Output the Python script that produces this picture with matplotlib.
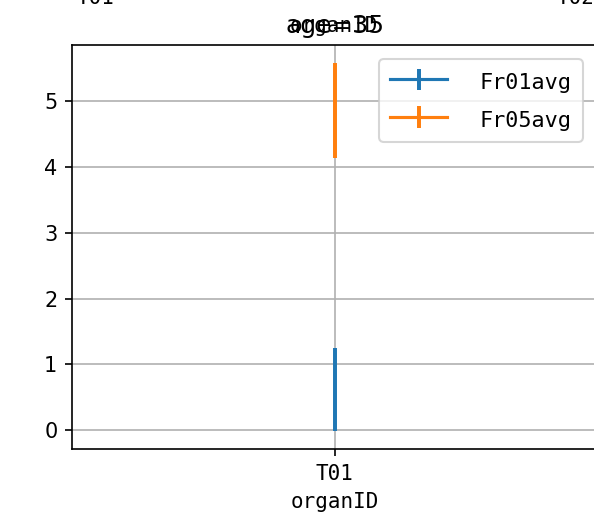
import matplotlib
matplotlib.use("Agg")
import matplotlib.pyplot as plt

# Data
categories = ["T01"]
fr01_avg = [0.62]
fr01_err = [0.63]
fr05_avg = [4.86]
fr05_err = [0.72]
series_labels = ["Fr01avg", "Fr05avg"]
title = "age=35"
xlabel = "organID"
upper_ticks = ["T01", "T02"]

DPI = 150
W, H = 594, 524
fig = plt.figure(figsize=(W / DPI, H / DPI), dpi=DPI)

left, right, bottom, top = 72, 597, 449, 45
ax = fig.add_axes([left / W, (H - bottom) / H, (right - left) / W, (bottom - top) / H])

mono = "DejaVu Sans Mono"

ax.errorbar(categories, fr01_avg, yerr=fr01_err, color="#1f77b4", elinewidth=1.9,
            label=series_labels[0])
ax.errorbar(categories, fr05_avg, yerr=fr05_err, color="#ff7f0e", elinewidth=1.9,
            label=series_labels[1])

ax.grid(True, color="#b0b0b0", linewidth=0.8)
ax.set_axisbelow(True)
ax.set_title(title, fontsize=12, family="DejaVu Sans")
ax.set_xlabel(xlabel, family=mono, fontsize=10)
for lab in ax.get_xticklabels():
    lab.set_family(mono)
ax.tick_params(labelsize=10)

leg = ax.legend(loc="upper right", prop={"family": mono, "size": 10.5},
                handlelength=2.6, handletextpad=1.5, labelspacing=0.7,
                handleheight=1.2, borderpad=0.5, borderaxespad=0.65)

# Remnants of the neighbouring (upper) subplot, clipped by the figure edge
fig.text(334 / W, (H - 36) / H, xlabel, ha="center", va="bottom", family=mono, fontsize=10)
fig.text(95 / W, (H - 3.5) / H, upper_ticks[0], ha="center", va="baseline", family=mono, fontsize=10)
fig.text(575 / W, (H - 3.5) / H, upper_ticks[1], ha="center", va="baseline", family=mono, fontsize=10)

fig.savefig("out.png", dpi=DPI)
